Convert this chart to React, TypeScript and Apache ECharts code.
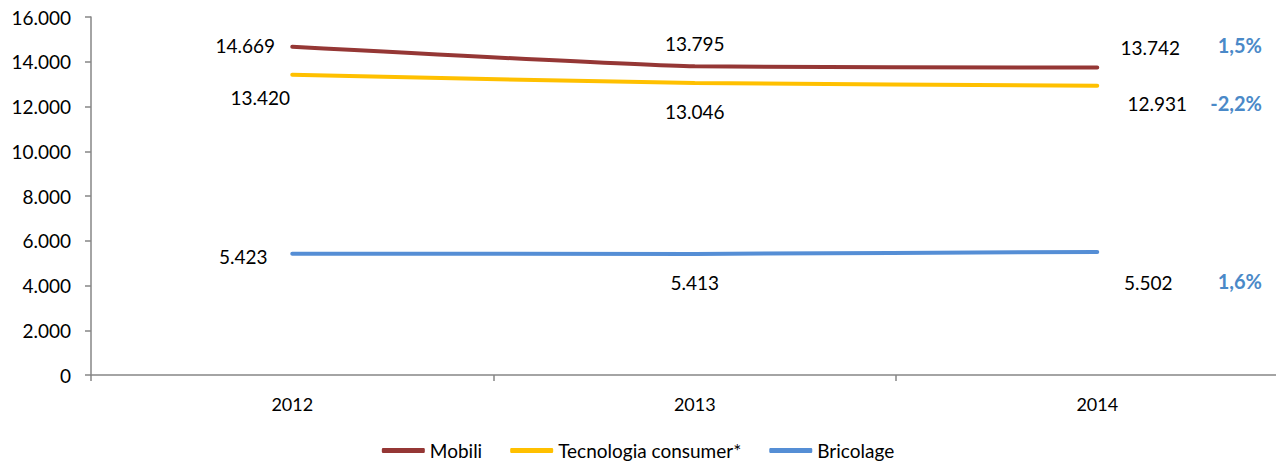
import React, { useEffect, useRef } from "react";
import * as echarts from "echarts";

const categories = ["2012", "2013", "2014"];
const seriesNames = ["Mobili", "Tecnologia consumer*", "Bricolage"];
const mobili = [14669, 13795, 13742];
const tecnologia = [13420, 13046, 12931];
const bricolage = [5423, 5413, 5502];
const changes = ["1,5%", "-2,2%", "1,6%"];
const colors = ["#953735", "#FFC000", "#558ED5"];

// label offsets relative to the point (style only)
const labelOffsets = [
  [[-47, -1], [0, -23], [53, -20]],
  [[-32, 23], [0, 28], [60, 18]],
  [[-49, 3], [0, 29], [51, 31]],
];
const changeOffsetsY = [-21, 19, 31];

const FONT = "Lato, 'Open Sans', sans-serif";
const fmt = (v: number) => v.toLocaleString("de-DE");

export default function App() {
  const ref = useRef<HTMLDivElement>(null);
  useEffect(() => {
    document.body.style.margin = "0";
    if (!ref.current) return;
    const chart = echarts.init(ref.current, undefined, { renderer: "svg" });
    const allData = [mobili, tecnologia, bricolage];
    const series = allData.map((vals, si) => ({
      name: seriesNames[si],
      type: "line",
      smooth: 0.15,
      symbol: "circle",
      symbolSize: 0.1,
      showSymbol: true,
      itemStyle: { color: colors[si] },
      lineStyle: { color: colors[si], width: 4, cap: "round" },
      label: {
        show: true,
        position: "inside",
        color: "#000",
        fontSize: 19,
        fontFamily: FONT,
        formatter: (p: any) => fmt(p.value),
      },
      data: vals.map((v, i) => ({
        value: v,
        label: { offset: labelOffsets[si][i] },
      })),
    }));
    chart.setOption({
      animation: false,
      grid: {
        left: 91,
        top: 17,
        right: -22.5,
        bottom: 88,
        containLabel: false,
        outerBoundsMode: "none",
      },
      legend: {
        data: seriesNames,
        left: "center",
        top: 436,
        icon: "roundRect",
        itemWidth: 43,
        itemHeight: 5,
        itemGap: 28,
        textStyle: { color: "#000", fontSize: 19, fontFamily: FONT },
      },
      xAxis: {
        type: "category",
        data: categories,
        boundaryGap: true,
        axisLine: { lineStyle: { color: "#868686", width: 1.5 } },
        axisTick: { show: true, length: 6, lineStyle: { color: "#868686", width: 1.5 } },
        axisLabel: { color: "#000", fontSize: 18, fontFamily: FONT, margin: 20 },
      },
      yAxis: {
        type: "value",
        min: 0,
        max: 16000,
        interval: 2000,
        splitLine: { show: false },
        axisLine: { show: true, lineStyle: { color: "#868686", width: 1.5 } },
        axisTick: { show: true, length: 6, lineStyle: { color: "#868686", width: 1.5 } },
        axisLabel: {
          color: "#000",
          fontSize: 19,
          fontFamily: FONT,
          margin: 20,
          formatter: (v: number) => fmt(v),
        },
      },
      series,
    });
    const last = categories.length - 1;
    const graphic = allData.map((vals, si) => {
      const [, py] = chart.convertToPixel({ gridIndex: 0 }, [last, vals[last]]) as number[];
      return {
        type: "text",
        right: 14,
        top: py + changeOffsetsY[si] - 12,
        style: {
          text: changes[si],
          fill: "#4A89C8",
          font: `bold 20px ${FONT}`,
          textAlign: "right",
        },
      };
    });
    chart.setOption({ graphic });
    return () => chart.dispose();
  }, []);
  return <div ref={ref} style={{ width: 1276, height: 463 }} />;
}
